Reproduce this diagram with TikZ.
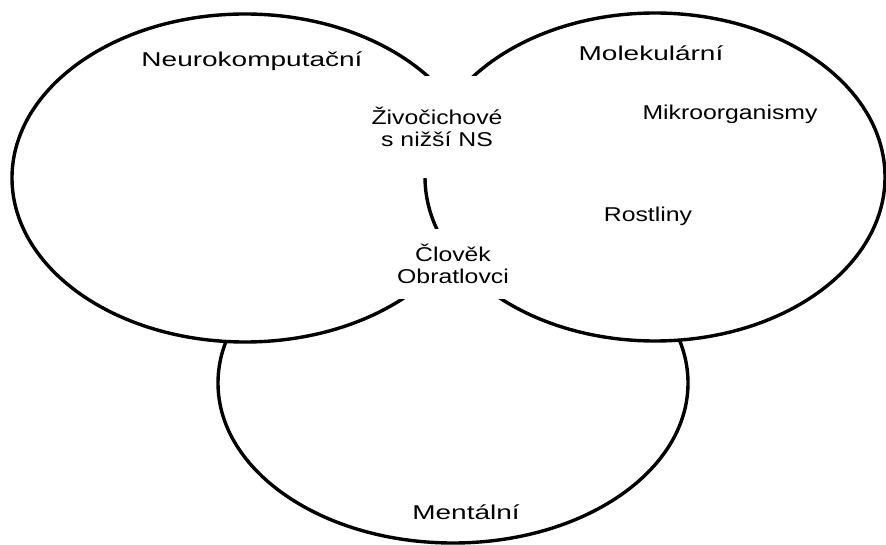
\documentclass[tikz,border=0pt]{standalone}
\usepackage{fontspec}
\setmainfont{Liberation Sans}[FakeStretch=1.24]
\newfontfamily\titlefont{Liberation Sans}[FakeStretch=1.4]
\usepackage{tikz}
\usetikzlibrary{positioning}

\begin{document}
\begin{tikzpicture}[
    x=1pt, y=-1pt,
    set/.style={draw, line width=3.4pt, fill=white},
    ttl/.style={font=\titlefont\fontsize{20}{22}\selectfont, anchor=base},
    lbl/.style={font=\fontsize{20}{21.5}\selectfont, align=center},
    gap/.style={lbl, fill=white, minimum width=140pt, inner sep=0pt}
]
\useasboundingbox (0,0) rectangle (886,545);

% the three sets, back to front
\draw[set] (453,383) ellipse [x radius=235pt, y radius=160pt];
\draw[set] (245,178) ellipse [x radius=233pt, y radius=164pt];
\draw[set] (655,177) ellipse [x radius=230pt, y radius=164pt];

% titles
\node[ttl] (neuro) at (252,67) {Neurokomputační};
\node[ttl] (molek) at (651,61) {Molekulární};
\node[ttl] (mental) at (466,519) {Mentální};

% members
\node[lbl, anchor=base] (mikro) at (730,120) {Mikroorganismy};
\node[lbl, anchor=base] (rostl) at (648,222) {Rostliny};
\node[gap, minimum height=102pt] (zivoc) at (437,127) {Živočichové\\s nižší NS};
\node[gap, minimum height=70pt, minimum width=124pt] (clovek) at (453,264) {Člověk\\Obratlovci};
\end{tikzpicture}
\end{document}
